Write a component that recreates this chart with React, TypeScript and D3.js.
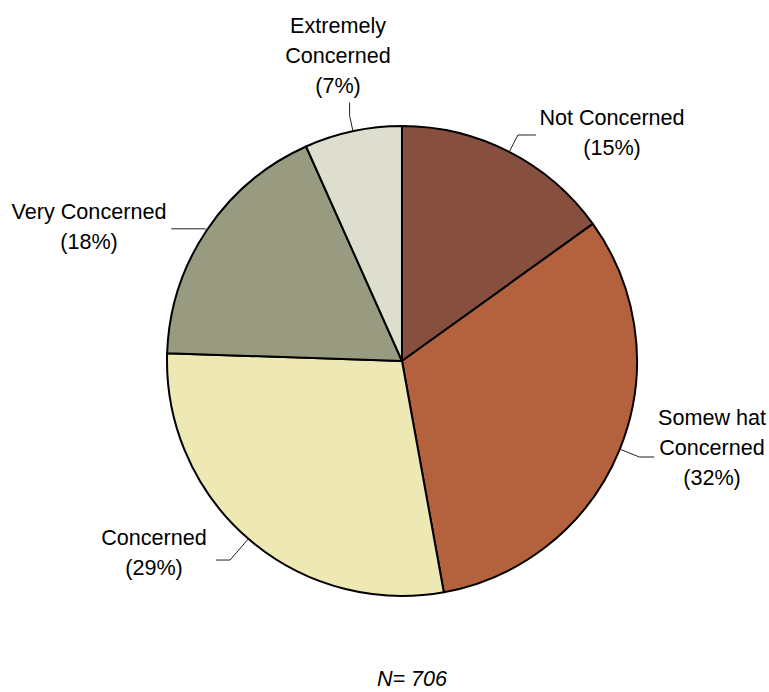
import React from "react";
import * as d3 from "d3";

const categories = ["Not Concerned", "Somewhat Concerned", "Concerned", "Very Concerned", "Extremely Concerned"];
const labelLines = [
  ["Not Concerned", "(15%)"],
  ["Somew hat", "Concerned", "(32%)"],
  ["Concerned", "(29%)"],
  ["Very Concerned", "(18%)"],
  ["Extremely", "Concerned", "(7%)"],
];
const values = [15.1, 32.1, 28.4, 17.8, 6.7];
const colors = ["#87503E", "#B4623E", "#EEE8B4", "#999B80", "#DEDECE"];
const footnote = "N= 706";

// layout for labels (positions only)
const labelLayout = [
  { x: 612, y: 125, elbow: 19, tail: [18, 0] },
  { x: 712, y: 425, elbow: 21, tail: [15, 0] },
  { x: 154, y: 545, elbow: 28, tail: [-14, 0] },
  { x: 89, y: 219, elbow: 2, tail: [-34, 0] },
  { x: 338, y: 33, elbow: 16, tail: [0, -13] },
];

export default function App() {
  const W = 769, H = 692;
  const cx = 402, cy = 361, r = 235;
  const pie = d3.pie<number>().sort(null).value((d) => d);
  const arcs = pie(values);
  const arc = d3.arc<d3.PieArcDatum<number>>().innerRadius(0).outerRadius(r);
  const font = "Arial, 'Liberation Sans', sans-serif";
  return (
    <svg width={W} height={H} style={{ position: "absolute", left: 0, top: 0, background: "#fff" }}>
      <g transform={`translate(${cx},${cy})`}>
        {arcs.map((a, i) => (
          <path key={categories[i]} d={arc(a) || ""} fill={colors[i]} stroke="#000" strokeWidth={2} strokeLinejoin="round" />
        ))}
      </g>
      {arcs.map((a, i) => {
        const mid = (a.startAngle + a.endAngle) / 2;
        const L = labelLayout[i];
        const p1 = [cx + r * Math.sin(mid), cy - r * Math.cos(mid)];
        const re = r + L.elbow;
        const p2 = [cx + re * Math.sin(mid), cy - re * Math.cos(mid)];
        const p3 = [p2[0] + L.tail[0], p2[1] + L.tail[1]];
        return (
          <g key={"lbl" + i}>
            <polyline points={`${p1[0]},${p1[1]} ${p2[0]},${p2[1]} ${p3[0]},${p3[1]}`} fill="none" stroke="#222" strokeWidth={1} />
            <text x={L.x} textAnchor="middle" fontFamily={font} fontSize={21.6} fill="#000">
              {labelLines[i].map((t, j) => (
                <tspan key={j} x={L.x} y={L.y + j * 30}>{t}</tspan>
              ))}
            </text>
          </g>
        );
      })}
      <text x={412} y={686} textAnchor="middle" fontFamily={font} fontSize={21.6} fontStyle="italic" fill="#000">{footnote}</text>
    </svg>
  );
}
